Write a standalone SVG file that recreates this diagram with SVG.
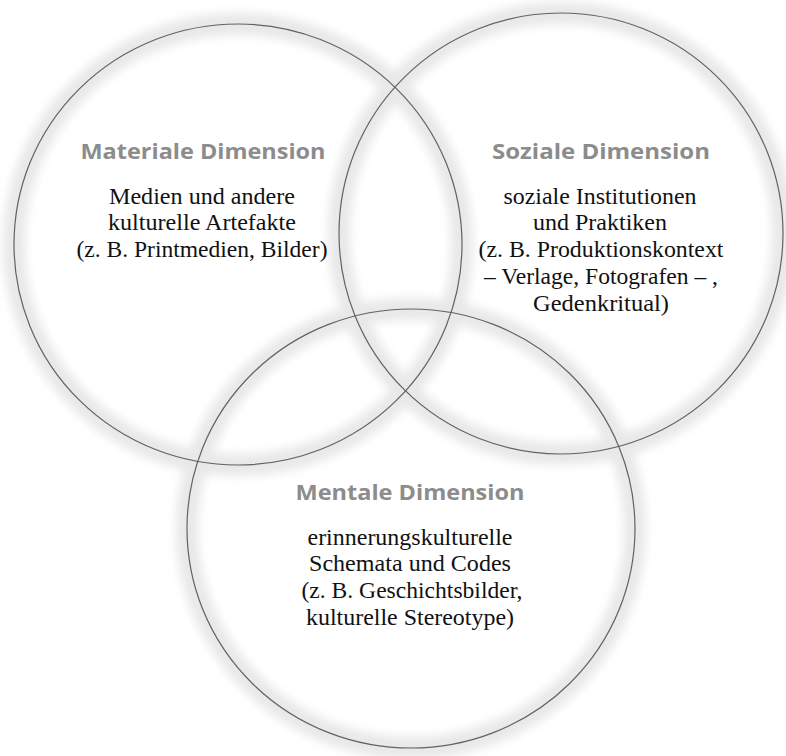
<svg xmlns="http://www.w3.org/2000/svg" width="786" height="756" viewBox="0 0 786 756">
<defs>
<filter id="halo" x="-20%" y="-20%" width="140%" height="140%">
<feGaussianBlur stdDeviation="5"/>
</filter>
</defs>
<style>
.halo{fill:none;stroke:#e8e8e8;stroke-width:22;filter:url(#halo)}
.ring{fill:none;stroke:#626262;stroke-width:1.2}
.head{font-family:"Open Sans","Lato","DejaVu Sans",sans-serif;font-weight:bold;font-size:21px;fill:#8c8c8c;text-anchor:middle}
.body{font-family:"Liberation Serif","Times New Roman",serif;font-size:23.5px;fill:#111;text-anchor:middle}
</style>
<rect width="786" height="756" fill="#fff"/>
<g id="halos">
<ellipse class="halo" cx="238" cy="244.5" rx="224" ry="220.5"/>
<ellipse class="halo" cx="561" cy="233.5" rx="222" ry="220.5"/>
<ellipse class="halo" cx="411" cy="528.5" rx="224" ry="219.5"/>
</g>
<g id="materiale">
<ellipse class="ring" cx="238" cy="244.5" rx="224" ry="220.5"/>
<text class="head" x="203" y="159" textLength="245" lengthAdjust="spacingAndGlyphs">Materiale Dimension</text>
<text class="body" x="202" y="204" textLength="186" lengthAdjust="spacingAndGlyphs">Medien und andere</text>
<text class="body" x="202" y="230" textLength="188" lengthAdjust="spacingAndGlyphs">kulturelle Artefakte</text>
<text class="body" x="202" y="257" textLength="251" lengthAdjust="spacingAndGlyphs">(z. B. Printmedien, Bilder)</text>
</g>
<g id="soziale">
<ellipse class="ring" cx="561" cy="233.5" rx="222" ry="220.5"/>
<text class="head" x="601" y="159" textLength="218" lengthAdjust="spacingAndGlyphs">Soziale Dimension</text>
<text class="body" x="600" y="204" textLength="193" lengthAdjust="spacingAndGlyphs">soziale Institutionen</text>
<text class="body" x="600" y="230" textLength="134" lengthAdjust="spacingAndGlyphs">und Praktiken</text>
<text class="body" x="601" y="257" textLength="245" lengthAdjust="spacingAndGlyphs">(z. B. Produktionskontext</text>
<text class="body" x="601" y="284" textLength="234" lengthAdjust="spacingAndGlyphs">– Verlage, Fotografen – ,</text>
<text class="body" x="601" y="311" textLength="136" lengthAdjust="spacingAndGlyphs">Gedenkritual)</text>
</g>
<g id="mentale">
<ellipse class="ring" cx="411" cy="528.5" rx="224" ry="219.5"/>
<text class="head" x="410" y="500" textLength="229" lengthAdjust="spacingAndGlyphs">Mentale Dimension</text>
<text class="body" x="410" y="545" textLength="205" lengthAdjust="spacingAndGlyphs">erinnerungskulturelle</text>
<text class="body" x="410" y="571" textLength="202" lengthAdjust="spacingAndGlyphs">Schemata und Codes</text>
<text class="body" x="412" y="598" textLength="221" lengthAdjust="spacingAndGlyphs">(z. B. Geschichtsbilder,</text>
<text class="body" x="410" y="625" textLength="208" lengthAdjust="spacingAndGlyphs">kulturelle Stereotype)</text>
</g>
<g id="connectors"/>
</svg>
